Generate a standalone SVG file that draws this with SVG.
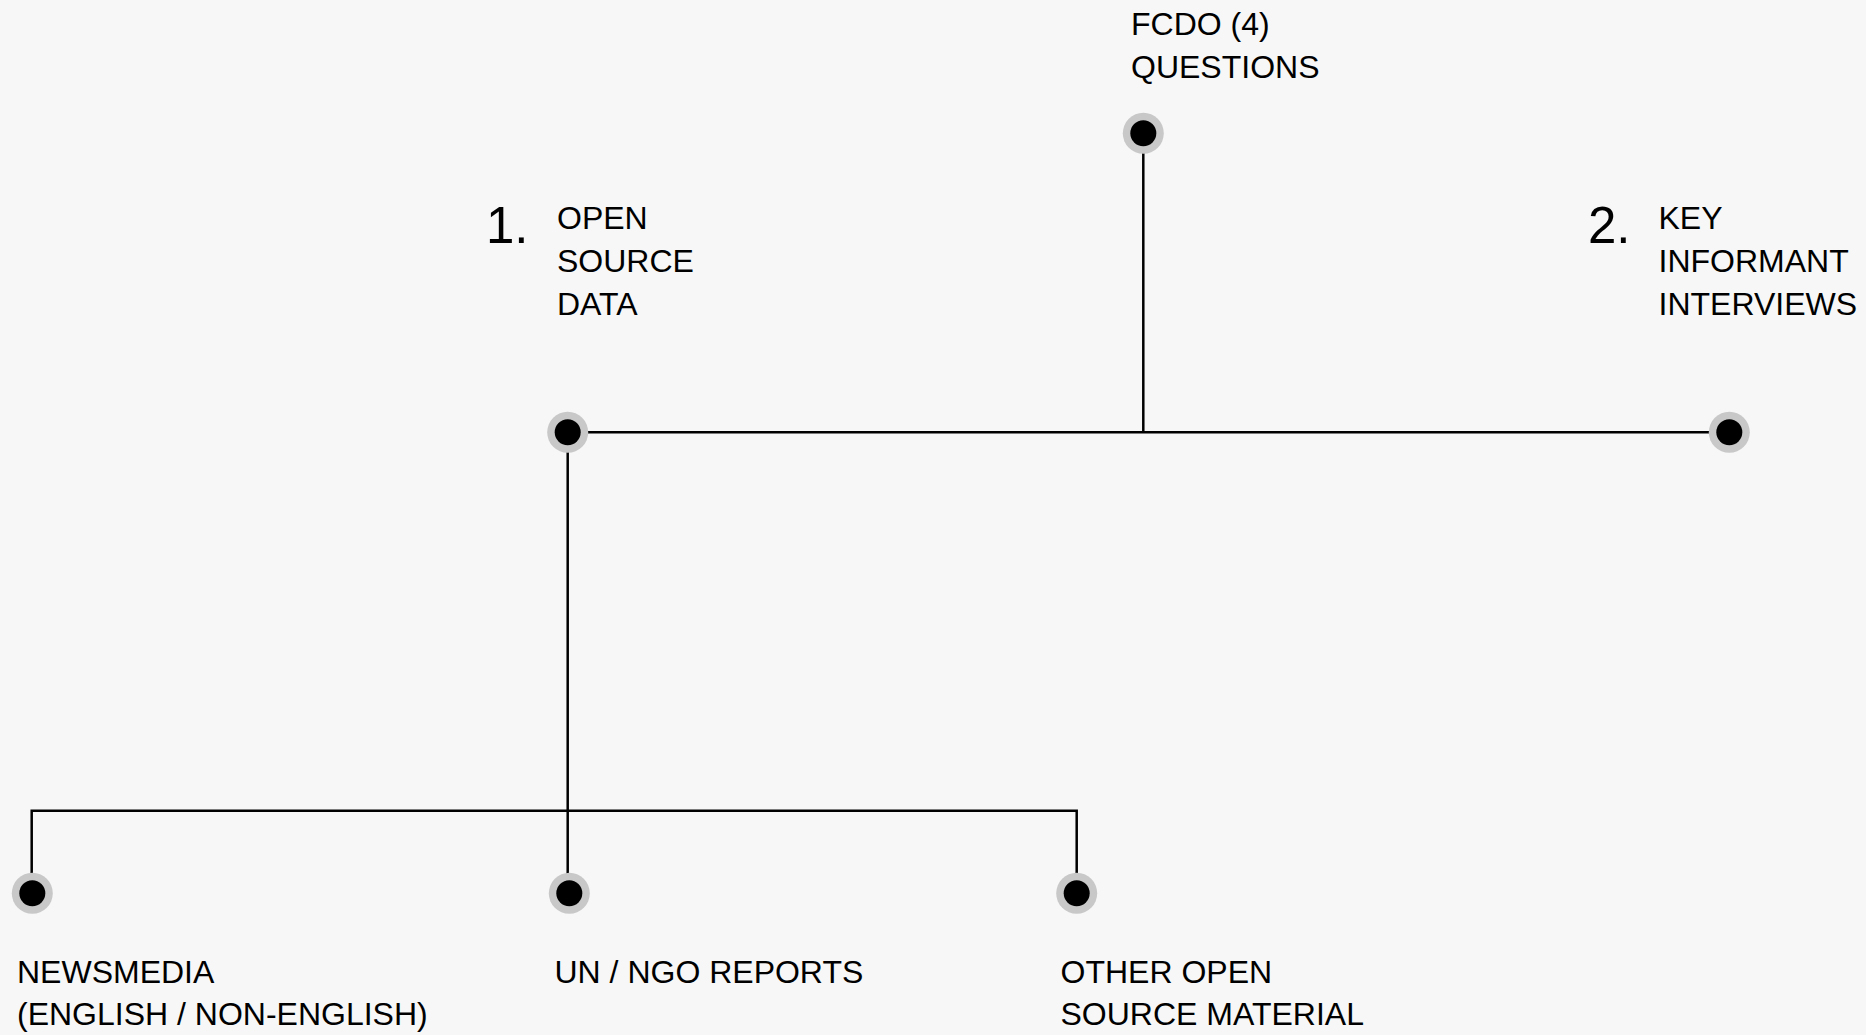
<svg xmlns="http://www.w3.org/2000/svg" width="1866" height="1035" viewBox="0 0 1866 1035">
<style>
text{font-family:"Liberation Sans",Arial,sans-serif;fill:#000}
.lbl{font-size:32px}
.num{font-size:51px}
.halo{fill:#c8c8c8}
.dot{fill:#000}
.conn{fill:none;stroke:#000;stroke-width:2.5}
</style>
<rect width="1866" height="1035" fill="#f7f7f7"/>
<g id="connectors">
<path class="conn" d="M1143.3 133V432.3"/>
<path class="conn" d="M567.7 432.3H1729.3"/>
<path class="conn" d="M567.7 432.3V893.3"/>
<path class="conn" d="M31.7 893.3V810.7H1076.7V893.3"/>
</g>
<g id="fcdo">
<circle class="halo" cx="1143.3" cy="133.3" r="20.5"/>
<circle class="dot" cx="1143.3" cy="133.3" r="13"/>
<text class="lbl" x="1131" y="34.5">FCDO (4)</text>
<text class="lbl" x="1131" y="77.5">QUESTIONS</text>
</g>
<g id="open-source-data">
<circle class="halo" cx="567.7" cy="432.3" r="20.5"/>
<circle class="dot" cx="567.7" cy="432.3" r="13"/>
<text class="num" x="486" y="243.3">1.</text>
<text class="lbl" x="557" y="229">OPEN</text>
<text class="lbl" x="557" y="272">SOURCE</text>
<text class="lbl" x="557" y="315">DATA</text>
</g>
<g id="key-informant-interviews">
<circle class="halo" cx="1729.3" cy="432.3" r="20.5"/>
<circle class="dot" cx="1729.3" cy="432.3" r="13"/>
<text class="num" x="1588" y="243.3">2.</text>
<text class="lbl" x="1658.5" y="229">KEY</text>
<text class="lbl" x="1658.5" y="272">INFORMANT</text>
<text class="lbl" x="1658.5" y="315">INTERVIEWS</text>
</g>
<g id="newsmedia">
<circle class="halo" cx="32.3" cy="893.3" r="20.5"/>
<circle class="dot" cx="32.3" cy="893.3" r="13"/>
<text class="lbl" x="17" y="982.5">NEWSMEDIA</text>
<text class="lbl" x="17" y="1025">(ENGLISH / NON-ENGLISH)</text>
</g>
<g id="un-ngo-reports">
<circle class="halo" cx="569.3" cy="893.3" r="20.5"/>
<circle class="dot" cx="569.3" cy="893.3" r="13"/>
<text class="lbl" x="554.5" y="982.5">UN / NGO REPORTS</text>
</g>
<g id="other-open-source">
<circle class="halo" cx="1076.7" cy="893.3" r="20.5"/>
<circle class="dot" cx="1076.7" cy="893.3" r="13"/>
<text class="lbl" x="1060.5" y="982.5">OTHER OPEN</text>
<text class="lbl" x="1060.5" y="1025">SOURCE MATERIAL</text>
</g>
</svg>
